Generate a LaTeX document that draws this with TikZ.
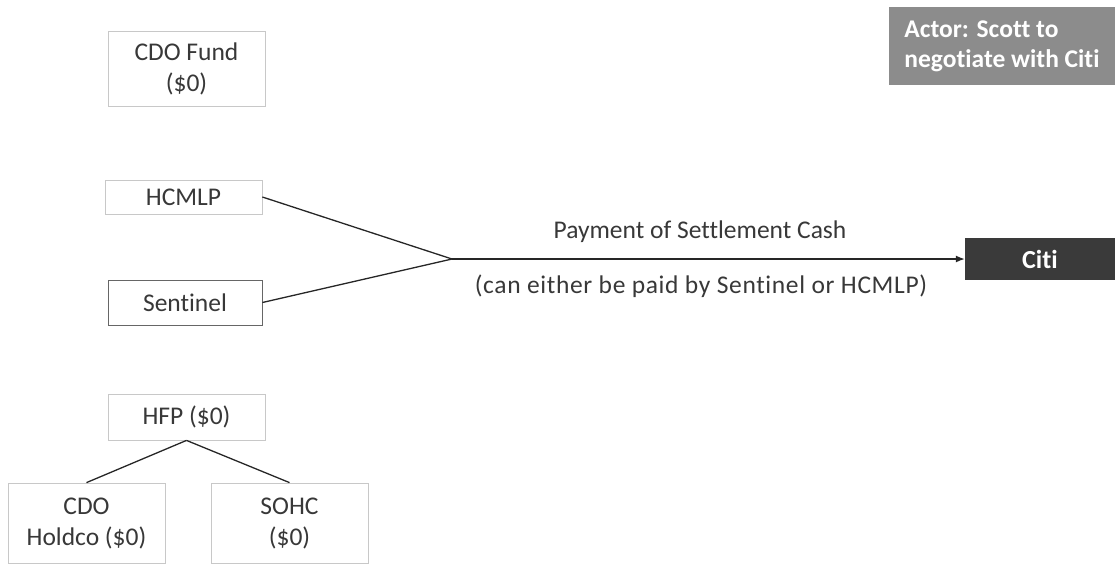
\documentclass[tikz,border=0pt]{standalone}
\usepackage{fontspec}
\setmainfont[Ligatures=NoCommon]{Carlito}
\usetikzlibrary{arrows.meta}
\definecolor{boxline}{HTML}{C8C8C8}
\definecolor{txt}{HTML}{383838}
\definecolor{actorfill}{HTML}{8C8C8C}
\definecolor{citifill}{HTML}{3A3A3A}
\begin{document}
\begin{tikzpicture}[x=1pt,y=-1pt,
  ent/.style={draw=boxline,line width=0.8pt,fill=white,text=txt,align=center,inner sep=0pt,font=\fontsize{25.5}{31}\selectfont},
  conn/.style={draw=black!85,line width=1.3pt},
  lbl/.style={text=txt,font=\fontsize{25.5}{31}\selectfont,inner sep=0pt}]
\useasboundingbox (0,0) rectangle (1115,566);
\node[ent,minimum width=157pt,minimum height=75pt] (cdof) at (186.5,68.5) {CDO Fund\\(\$0)};
\node[ent,minimum width=157pt,minimum height=34pt] (hcmlp) at (183.5,197) {HCMLP};
\node[ent,draw=black!60,minimum width=154pt,minimum height=45pt] (sent) at (185,302.5) {Sentinel};
\node[ent,minimum width=157pt,minimum height=46pt] (hfp) at (186.5,417) {HFP (\$0)};
\node[ent,minimum width=157pt,minimum height=80pt] (cdoh) at (86.5,523) {CDO\\Holdco (\$0)};
\node[ent,minimum width=157pt,minimum height=80pt] (sohc) at (289.5,523) {SOHC\\(\$0)};
\node[fill=actorfill,text=white,align=left,inner sep=0pt,minimum width=226pt,minimum height=78pt,font=\bfseries\fontsize{25.5}{30}\selectfont] (actor) at (1002,46) {Actor: Scott to\\negotiate with Citi};
\node[fill=citifill,text=white,inner sep=0pt,minimum width=150pt,minimum height=42pt,font=\bfseries\fontsize{26}{31}\selectfont] (citi) at (1040,259) {Citi};
\coordinate (j) at (452,259);
\draw[conn] (hcmlp.east) -- (j);
\draw[conn] (sent.east) -- (j);
\draw[conn,-{Latex[length=9pt,width=7pt]}] (j) -- (citi.west);
\node[lbl] (pay) at (700,232) {Payment of Settlement Cash};
\node[lbl] (either) at (701,286) {\addfontfeature{LetterSpace=2.5}(can either be paid by Sentinel or HCMLP)};
\draw[conn] (hfp.south) -- (cdoh.north);
\draw[conn] (hfp.south) -- (sohc.north);
\end{tikzpicture}
\end{document}
